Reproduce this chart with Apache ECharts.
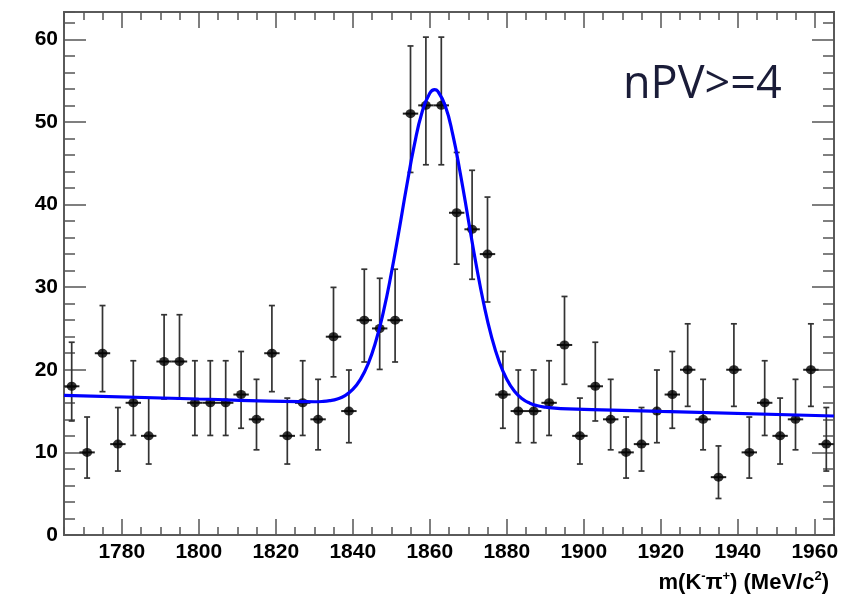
<!DOCTYPE html>
<html><head><meta charset="utf-8">
<script src="https://cdn.jsdelivr.net/npm/echarts@6/dist/echarts.min.js"></script>
<style>html,body{margin:0;padding:0;background:#fff}#c{width:847px;height:598px}</style>
</head><body><div id="c"></div>
<script>
// ---- data ----
const binCenters = [1767,1771,1775,1779,1783,1787,1791,1795,1799,1803,1807,1811,1815,1819,1823,1827,1831,1835,1839,1843,1847,1851,1855,1859,1863,1867,1871,1875,1879,1883,1887,1891,1895,1899,1903,1907,1911,1915,1919,1923,1927,1931,1935,1939,1943,1947,1951,1955,1959,1963];
const binHalfWidth = 2;
const counts = [18,10,22,11,16,12,21,21,16,16,16,17,14,22,12,16,14,24,15,26,25,26,51,52,52,39,37,34,17,15,15,16,23,12,18,14,10,11,15,17,20,14,7,20,10,16,12,14,20,11];
const errLow = [13.80,6.89,17.35,7.74,12.05,8.59,16.46,16.46,12.05,12.05,12.05,12.92,10.31,17.35,8.59,12.05,10.31,19.14,11.17,20.94,20.04,20.94,43.88,44.81,44.81,32.78,30.95,28.20,12.92,11.17,11.17,12.05,18.24,8.59,13.80,10.31,6.89,7.74,11.17,12.92,15.57,10.31,4.42,15.57,6.89,12.05,8.59,10.31,15.57,7.74];
const errHigh = [23.33,14.28,27.77,15.43,21.09,16.57,26.66,26.66,21.09,21.09,21.09,22.21,18.84,27.77,16.57,21.09,18.84,29.97,19.97,32.17,31.07,32.17,59.19,60.26,60.26,46.30,44.14,40.90,22.21,19.97,19.97,21.09,28.87,16.57,23.33,18.84,14.28,15.43,19.97,22.21,25.56,18.84,10.78,25.56,14.28,21.09,16.57,18.84,25.56,15.43];
const fitMass = [1765,1800,1826,1830,1832,1834,1836,1838,1840,1842,1844,1846,1848,1850,1852,1854,1856,1858,1860,1861.3,1862,1864,1866,1868,1870,1872,1874,1876,1878,1880,1882,1884,1886,1888,1890,1894,1920,1965];
const fitValues = [16.90,16.46,16.14,16.13,16.16,16.26,16.47,16.88,17.62,18.84,20.72,23.45,27.09,31.63,36.80,42.21,47.21,51.17,53.47,53.90,53.76,51.98,48.42,43.61,38.22,32.86,28.05,24.08,21.03,18.86,17.41,16.49,15.95,15.64,15.47,15.30,14.96,14.40];
const xTickLabels = [1780,1800,1820,1840,1860,1880,1900,1920,1940,1960];
const yTickLabels = [0,10,20,30,40,50,60];
const xRange = [1765, 1965];
const yRange = [0, 63.3];
const annotation = 'nPV>=4';

// ---- chart ----
const chart = echarts.init(document.getElementById('c'), null, {renderer: 'canvas'});
const tickColor = '#555';
const labelFont = {color: '#000', fontWeight: 'bold', fontSize: 21, fontFamily: 'Liberation Sans, Arial, sans-serif'};

function xAxisDef(position, major, showLabels) {
  const ax = {
    type: 'value', gridIndex: 0, position: position, min: xRange[0], max: xRange[1],
    axisLine: {show: false, onZero: false},
    splitLine: {show: false},
    axisTick: {show: true, inside: true, length: major ? 16 : 8, lineStyle: {color: tickColor, width: 1.5}},
    axisLabel: {show: false}
  };
  if (major) ax.splitNumber = 10; else ax.interval = 5;
  if (showLabels) {
    ax.axisLabel = Object.assign({show: true, margin: 7, showMinLabel: false, showMaxLabel: false,
      formatter: v => xTickLabels.includes(v) ? String(v) : ''}, labelFont);
  }
  return ax;
}
function yAxisDef(position, major, showLabels) {
  const ax = {
    type: 'value', gridIndex: 0, position: position, min: yRange[0], max: yRange[1],
    interval: major ? 10 : 2,
    axisLine: {show: false, onZero: false},
    splitLine: {show: false},
    axisTick: {show: true, inside: true, length: major ? 22 : 11, lineStyle: {color: tickColor, width: 1.5}},
    axisLabel: {show: false}
  };
  if (showLabels) {
    ax.axisLabel = Object.assign({show: true, margin: 6, showMaxLabel: false,
      formatter: v => yTickLabels.includes(v) ? String(v) : ''}, labelFont);
  }
  return ax;
}

const errData = binCenters.map((x, i) => [x, counts[i], errLow[i], errHigh[i]]);
const pointData = binCenters.map((x, i) => [x, counts[i]]);
const fitData = fitMass.map((x, i) => [x, fitValues[i]]);

chart.setOption({
  animation: false,
  backgroundColor: '#fff',
  grid: {left: 64, right: 13, top: 12, bottom: 63, show: true, borderColor: '#5a5a5a', borderWidth: 2, backgroundColor: 'transparent'},
  title: [
    {text: annotation, left: 618, top: 58,
     textStyle: {color: '#1a1c38', fontSize: 45, fontWeight: 'normal', fontFamily: 'Open Sans, sans-serif'}},
    {text: '{m|m(K}{s|-}{m|π}{s|+}{m|) (MeV/c}{s|2}{m|)}', right: 13, top: 565,
     textStyle: {rich: {
       m: {fontSize: 22, fontWeight: 'bold', color: '#000', fontFamily: 'Liberation Sans, Arial, sans-serif', verticalAlign: 'bottom', lineHeight: 24},
       s: {fontSize: 13, fontWeight: 'bold', color: '#000', fontFamily: 'Liberation Sans, Arial, sans-serif', verticalAlign: 'top', lineHeight: 24, padding: [0, 0, 11, 0]}
     }}}
  ],
  xAxis: [
    xAxisDef('bottom', true, true),
    xAxisDef('bottom', false, false),
    xAxisDef('top', true, false),
    xAxisDef('top', false, false)
  ],
  yAxis: [
    yAxisDef('left', true, true),
    yAxisDef('left', false, false),
    yAxisDef('right', true, false),
    yAxisDef('right', false, false)
  ],
  series: [
    {
      type: 'custom', xAxisIndex: 0, yAxisIndex: 0, data: errData,
      encode: {x: 0, y: [1, 2, 3]},
      renderItem: function (params, api) {
        const x = api.value(0), y = api.value(1), lo = api.value(2), hi = api.value(3);
        const pTop = api.coord([x, hi]), pBot = api.coord([x, lo]);
        const pL = api.coord([x - binHalfWidth, y]), pR = api.coord([x + binHalfWidth, y]);
        const cap = 3;
        const vStyle = {stroke: '#333', lineWidth: 1.7};
        const hStyle = {stroke: '#222', lineWidth: 2};
        return {type: 'group', children: [
          {type: 'line', shape: {x1: pTop[0], y1: pTop[1], x2: pBot[0], y2: pBot[1]}, style: vStyle},
          {type: 'line', shape: {x1: pTop[0] - cap, y1: pTop[1], x2: pTop[0] + cap, y2: pTop[1]}, style: vStyle},
          {type: 'line', shape: {x1: pBot[0] - cap, y1: pBot[1], x2: pBot[0] + cap, y2: pBot[1]}, style: vStyle},
          {type: 'line', shape: {x1: pL[0], y1: pL[1], x2: pR[0], y2: pR[1]}, style: hStyle}
        ]};
      },
      z: 2
    },
    {
      type: 'scatter', xAxisIndex: 0, yAxisIndex: 0, data: pointData,
      symbol: 'circle', symbolSize: [10, 9], itemStyle: {color: '#000'}, z: 3
    },
    {
      type: 'line', xAxisIndex: 0, yAxisIndex: 0, data: fitData,
      showSymbol: false, smooth: true, clip: true,
      lineStyle: {color: '#0000ff', width: 3.2}, z: 4
    }
  ]
});
</script>
</body></html>
